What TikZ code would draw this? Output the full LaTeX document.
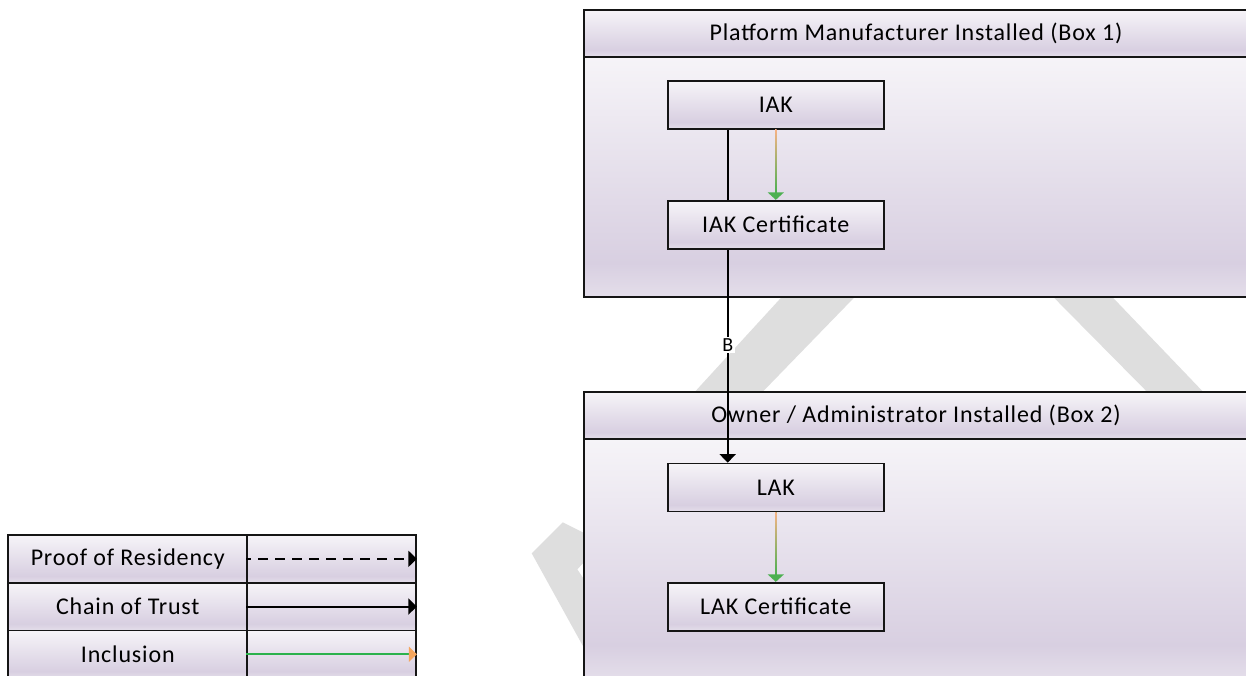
\documentclass[tikz,border=0pt]{standalone}
\usepackage{fontspec}
\setmainfont{Carlito}[LetterSpace=3.5]
\usetikzlibrary{arrows.meta,calc}

\definecolor{lavTop}{HTML}{F6F4F8}
\definecolor{lavDark}{HTML}{D8CFE1}
\definecolor{lavBot}{HTML}{E4DEEA}
\definecolor{edgeInk}{HTML}{151515}
\definecolor{wmark}{HTML}{DEDEDE}
\definecolor{incOrange}{HTML}{F5B285}
\definecolor{incGreen}{HTML}{4DB051}
\definecolor{legGreen}{HTML}{2BB24C}
\definecolor{legOrange}{HTML}{F5A55C}

% soft lavender fill: light at the top, darkest near the bottom
\pgfdeclareverticalshading{lavender}{100bp}{%
  color(0bp)=(lavBot); color(25bp)=(lavBot); color(32bp)=(lavDark);
  color(75bp)=(lavTop); color(100bp)=(lavTop)}

\tikzset{
  every node/.style={font=\fontsize{24}{28}\selectfont, text=black},
  panel/.style={rectangle, shade, shading=lavender, draw=edgeInk,
                line width=1.9pt, inner sep=0pt, minimum width=664pt},
  keybox/.style={rectangle, shade, shading=lavender, draw=edgeInk,
                 line width=1.7pt, inner sep=0pt,
                 minimum width=216.3pt, minimum height=48pt},
  legcell/.style={rectangle, shade, shading=lavender, draw=edgeInk,
                  line width=1.7pt, inner sep=0pt, minimum height=47.7pt},
  trust/.style={draw=black, line width=1.9pt,
                -{Triangle[width=16pt,length=8.5pt]}},
  residency/.style={trust, dash pattern=on 10pt off 7pt, dash phase=5pt},
  inclusion/.style={draw=incGreen, line width=1.5pt,
                    -{Triangle[width=16pt,length=7.5pt]}},
  legincl/.style={draw=legGreen, line width=1.6pt,
                  -{Triangle[width=15pt,length=8pt,color=legOrange]}},
  blabel/.style={fill=white, inner sep=1.5pt,
                 font=\fontsize{20}{22}\selectfont},
}

\begin{document}
\begin{tikzpicture}[x=1pt, y=-1pt]
  \useasboundingbox (0,0) rectangle (1246,675);
  \clip (0,0) rectangle (1246,675);
  \fill[white] (0,0) rectangle (1246,675);

  % watermark strokes behind everything
  \fill[wmark] (797.3,280) -- (871.2,280) -- (745,410) -- (678.2,410) -- cycle;
  \fill[wmark] (1036.5,280) -- (1096,280) -- (1220.5,410) -- (1165,410) -- cycle;
  \fill[wmark] (531.7,553.3) -- (562.7,522.3) -- (590,536) -- (590,556)
               -- (577.3,569.3) -- (590,588.3) -- (590,658.8) -- cycle;

  % container: platform manufacturer
  \node[panel, minimum height=46.7pt] (hdr1) at (916,33.35)
       {Platform Manufacturer Installed (Box 1)};
  \node[panel, minimum height=240pt] (body1) at (916,176.7) {};

  % container: owner / administrator
  \node[panel, minimum height=47pt] (hdr2) at (916,415.5)
       {Owner / Administrator Installed (Box 2)};
  \node[panel, minimum height=240pt] (body2) at (916,559) {};

  % legend
  \node[legcell, minimum width=239pt]   (leg1a) at (127.8,558.85) {Proof of Residency};
  \node[legcell, minimum width=168.7pt] (leg1b) at (331.65,558.85) {};
  \node[legcell, minimum width=239pt]   (leg2a) at (127.8,606.55) {Chain of Trust};
  \node[legcell, minimum width=168.7pt] (leg2b) at (331.65,606.55) {};
  \node[legcell, minimum width=239pt]   (leg3a) at (127.8,654.25) {Inclusion};
  \node[legcell, minimum width=168.7pt] (leg3b) at (331.65,654.25) {};

  \draw[residency] (leg1b.west) -- (leg1b.east);
  \draw[trust]     (leg2b.west) -- (leg2b.east);
  \draw[legincl]   (leg3b.west) -- (leg3b.east);

  % keys
  \node[keybox] (IAK) at (775.8,105)   {IAK};
  \node[keybox] (LAK) at (775.8,487.5) {LAK};

  % chain of trust, passing behind the IAK certificate
  \coordinate (trustx) at (727.7,0);
  \draw[trust] (IAK.south -| trustx) --
        node[blabel, pos=0.647] (lblB) {B}
        (LAK.north -| trustx);

  % certificates
  \node[keybox] (IAKcert) at (775.8,224.7) {IAK Certificate};
  \node[keybox] (LAKcert) at (775.8,606.7) {LAK Certificate};

  % inclusion arrows, orange fading into green
  \draw[inclusion] (IAK.south) -- (IAKcert.north);
  \shade[top color=incOrange, bottom color=incGreen]
        ([xshift=-0.75pt]IAK.south) rectangle ([xshift=0.75pt,yshift=7.5pt]IAKcert.north);
  \draw[inclusion] (LAK.south) -- (LAKcert.north);
  \shade[top color=incOrange, bottom color=incGreen]
        ([xshift=-0.75pt]LAK.south) rectangle ([xshift=0.75pt,yshift=7.5pt]LAKcert.north);
\end{tikzpicture}
\end{document}
